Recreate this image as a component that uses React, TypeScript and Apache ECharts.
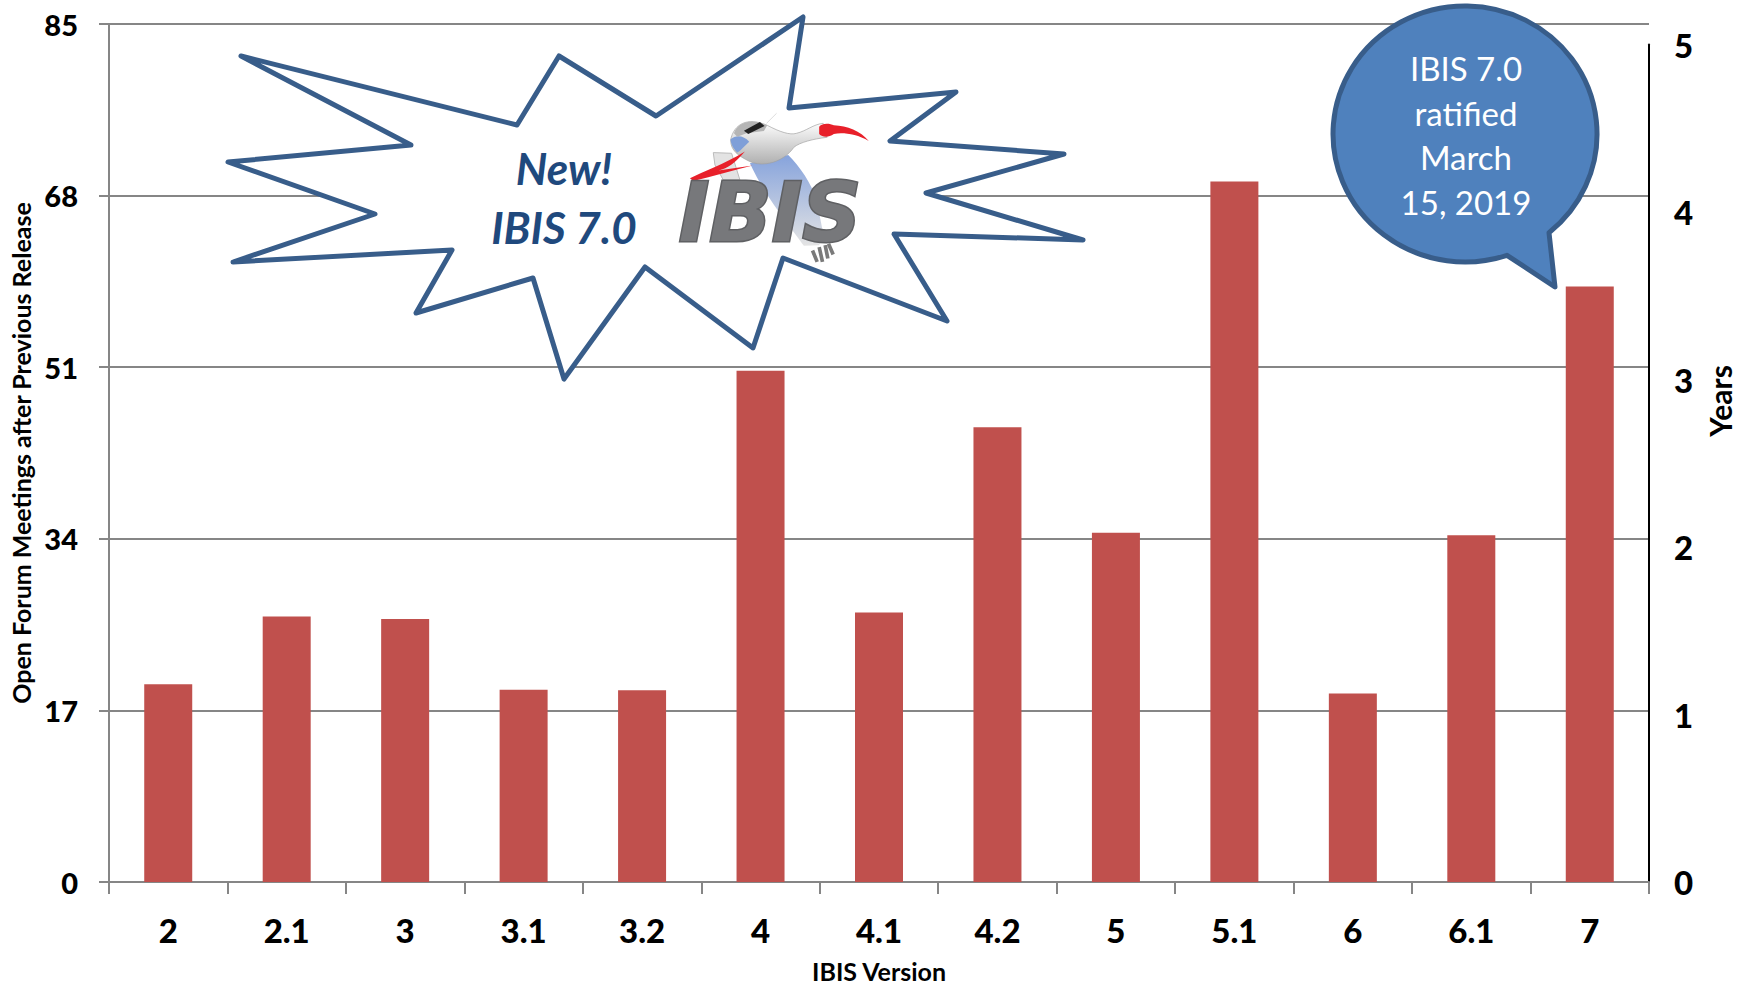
import React, { useEffect, useRef } from "react";
import * as echarts from "echarts";

const categories = ["2", "2.1", "3", "3.1", "3.2", "4", "4.1", "4.2", "5", "5.1", "6", "6.1", "7"];
const meetings = [19.6, 26.3, 26.05, 19.05, 19.0, 50.66, 26.7, 45.04, 34.6, 69.4, 18.67, 34.36, 59.0];
const leftTicks = [0, 17, 34, 51, 68, 85];
const yTitle = "Open Forum Meetings after Previous Release";
const xTitle = "IBIS Version";
const rightTitle = "Years";
const burstText = "New!\nIBIS 7.0";
const bubbleText = "IBIS 7.0\nratified\nMarch\n15, 2019";

const burstPoints = [
  [241, 56], [517, 125], [559, 56], [656, 116], [803, 17], [789, 108], [956, 92], [890, 141],
  [1064, 154], [926, 193], [1083, 240], [894, 234], [947, 321], [783, 258], [753, 348], [645, 267],
  [564, 379], [533, 278], [416, 313], [452, 250], [233, 262], [375, 214], [228, 162], [411, 145],
];

const FONT = "Lato";
const GREY = "#868686";

function reg(name: string, d: string) {
  echarts.graphic.registerShape(name, echarts.graphic.extendPath(d, {}) as any);
}
reg("bubble", "M1549,232.7 L1555,287 L1507,255.3 A132,128 0 1 1 1549,232.7 Z");
reg("birdFan", "M160,158 L215,160 L240,240 L190,240 L165,195 Z");
reg("birdLower", "M270,190 L385,165 C420,200 455,250 470,300 L490,400 L478,436 L432,438 C400,390 320,300 270,190 Z");
reg("birdBody", "M212,120 C222,72 262,50 322,76 C360,96 390,106 410,100 C440,93 460,73 490,70 L502,112 C460,117 420,127 402,142 C372,186 310,204 268,184 C236,168 212,152 212,120 Z");
reg("birdBlue", "M212,118 C230,103 252,108 268,125 C252,140 242,152 232,158 C220,146 212,130 212,118 Z");
reg("birdHead", "M222,100 C232,70 270,52 322,76 L312,93 L260,100 L232,110 Z");
reg("birdEye", "M252,92 L300,66 L314,78 L265,102 Z");
reg("birdBeak", "M478,80 C488,68 510,70 522,76 C562,78 602,93 627,123 C590,102 550,97 522,102 C505,114 488,112 478,102 Z");
reg("birdLeg", "M90,235 C130,215 190,195 255,155 C225,190 205,205 175,212 L278,197 C220,211 160,230 100,243 Z");
reg("birdFoot", "M472,486 L458,452 M488,486 L478,442 M504,476 L496,436 M520,464 L506,432");
reg("birdLine", "M320,70 L350,40");

const bird = (type: string, style: any) => ({
  type, x: 660, y: 100, scaleX: 1 / 3, scaleY: 1 / 3, style,
});
const vGrad = (a: string, b: string) => ({
  type: "linear", x: 0, y: 0, x2: 0, y2: 1,
  colorStops: [{ offset: 0, color: a }, { offset: 1, color: b }],
});

export default function App() {
  const ref = useRef<HTMLDivElement>(null);
  useEffect(() => {
    const chart = echarts.init(ref.current!, undefined, { renderer: "svg" });
    chart.setOption({
      animation: false,
      backgroundColor: "#fff",
      textStyle: { fontFamily: FONT },
      grid: [
        { left: 109, right: 95, top: 24, bottom: 102, outerBoundsMode: "none" },
        { left: 109, right: 95, top: 44.5, bottom: 102, outerBoundsMode: "none" },
      ],
      xAxis: [
        {
          type: "category", gridIndex: 0, data: categories,
          name: xTitle, nameLocation: "middle", nameGap: 76,
          nameTextStyle: { fontFamily: FONT, fontWeight: "bold", fontSize: 25, color: "#000" },
          axisLine: { lineStyle: { color: GREY, width: 2 } },
          axisTick: { show: true, alignWithLabel: false, length: 12, lineStyle: { color: GREY, width: 2 } },
          axisLabel: { fontFamily: FONT, fontWeight: 900, fontSize: 33, color: "#000", margin: 31, interval: 0 },
        },
        { type: "category", gridIndex: 1, data: categories, show: false },
      ],
      yAxis: [
        {
          type: "value", gridIndex: 0, min: 0, max: leftTicks[leftTicks.length - 1], interval: leftTicks[1],
          name: yTitle, nameLocation: "middle", nameGap: 73, nameRotate: 90,
          nameTextStyle: { fontFamily: FONT, fontWeight: "bold", fontSize: 25, color: "#000" },
          axisLine: { show: true, lineStyle: { color: GREY, width: 2 } },
          axisTick: { show: true, length: 10, lineStyle: { color: GREY, width: 2 } },
          axisLabel: { fontFamily: FONT, fontWeight: 900, fontSize: 29, color: "#000", margin: 31 },
          splitLine: { show: true, lineStyle: { color: GREY, width: 2 } },
        },
        {
          type: "value", gridIndex: 1, position: "right", min: 0, max: 5, interval: 1,
          axisLine: { show: true, onZero: false, lineStyle: { color: "#000", width: 2 } },
          axisTick: { show: false },
          axisLabel: { fontFamily: FONT, fontWeight: 900, fontSize: 33, color: "#000", margin: 25 },
          splitLine: { show: false },
        },
      ],
      series: [
        {
          type: "bar", xAxisIndex: 0, yAxisIndex: 0, data: meetings, barWidth: 48,
          itemStyle: { color: "#c0504d" },
        },
      ],
      graphic: [
        {
          type: "text", x: 1720, y: 401, rotation: Math.PI / 2, z: 10,
          style: { text: rightTitle, fontFamily: FONT, fontWeight: "bold", fontSize: 30, fill: "#000", align: "center", verticalAlign: "middle" },
        },
        {
          type: "polygon", z: 20,
          shape: { points: burstPoints },
          style: { fill: "#fff", stroke: "#385d8a", lineWidth: 5, lineJoin: "round" },
        },
        {
          type: "text", x: 564, y: 197, z: 21,
          style: { text: burstText, fontFamily: FONT, fontWeight: "bold", fontStyle: "italic", fontSize: 44, lineHeight: 59, fill: "#1f497d", align: "center", verticalAlign: "middle" },
        },
        { ...bird("birdFan", { fill: "#e3e3e3", stroke: "#bbbbbb", lineWidth: 3 }), z: 22 },
        { ...bird("birdLower", { fill: vGrad("#86a3dc", "#e4e4e4") }), z: 22 },
        { ...bird("birdBody", { fill: vGrad("#ffffff", "#b0b0b0"), stroke: "#a0a0a0", lineWidth: 2 }), z: 23 },
        { ...bird("birdBlue", { fill: "#7f9fd8" }), z: 24 },
        { ...bird("birdHead", { fill: "#b5b5b5" }), z: 24 },
        { ...bird("birdEye", { fill: "#222222" }), z: 25 },
        { ...bird("birdBeak", { fill: "#e8202a" }), z: 25 },
        { ...bird("birdLeg", { fill: "#e8202a" }), z: 25 },
        { ...bird("birdLine", { stroke: "#cccccc", lineWidth: 2, fill: "none" }), z: 25 },
        { ...bird("birdFoot", { stroke: "#7a7a7a", lineWidth: 11, fill: "none" }), z: 25 },
        {
          type: "text", x: 770, y: 212, z: 26,
          style: {
            text: "IBIS", fontFamily: "DejaVu Sans", fontWeight: "bold", fontStyle: "italic", fontSize: 82,
            fill: "#77787b", stroke: "#5f6063", lineWidth: 3, align: "center", verticalAlign: "middle",
          },
        },
        {
          type: "bubble", z: 30,
          style: { fill: "#4f81bd", stroke: "#385d8a", lineWidth: 5, lineJoin: "round" },
        },
        {
          type: "text", x: 1466, y: 135, z: 31,
          style: { text: bubbleText, fontFamily: FONT, fontSize: 33, lineHeight: 44.7, fill: "#fff", align: "center", verticalAlign: "middle" },
        },
      ],
    });
    return () => chart.dispose();
  }, []);
  return <div ref={ref} style={{ position: "fixed", left: 0, top: 0, width: 1744, height: 984 }} />;
}
